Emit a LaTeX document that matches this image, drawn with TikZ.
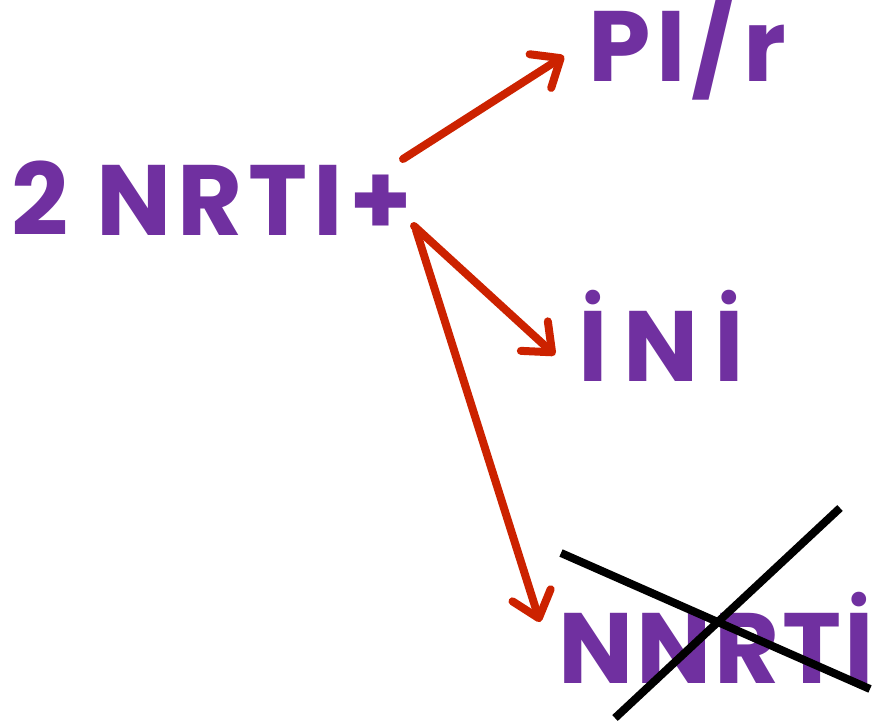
\documentclass[tikz,border=0pt]{standalone}
\usepackage{fontspec}
\newfontfamily\lblfont{Poppins}
\usetikzlibrary{arrows.meta}
\definecolor{lblpurple}{HTML}{7030A0}
\definecolor{arrred}{HTML}{CC2200}
\tikzset{
  lbl/.style={inner sep=0pt, outer sep=0pt, text=lblpurple, font=\lblfont\bfseries\fontsize{100}{110}\selectfont},
  redarrow/.style={draw=arrred, line width=8pt, line cap=round,
    -{Straight Barb[length=24pt,width=40pt,line width=8pt,round]}},
  crossline/.style={draw=black, line width=8pt}
}
\begin{document}
\begin{tikzpicture}[x=1pt,y=-1pt]
\useasboundingbox (0,0) rectangle (891,722);
\node[lbl, anchor=base west] (nrti) at (12,235) {\addfontfeatures{LetterSpace=6}2 NRTI+};
\node[lbl, anchor=base west] (pir) at (588,82) {\addfontfeatures{LetterSpace=6}PI/r};
\node[lbl, anchor=base west] (ini) at (578,381) {\addfontfeatures{LetterSpace=16}İNİ};
\node[lbl, anchor=base west] (nnrti) at (558,683) {\addfontfeatures{LetterSpace=3}NNRTİ};
\coordinate (s1) at (403,159);
\coordinate (t1) at (564,56);
\coordinate (s2) at (414,226);
\coordinate (t2) at (555,355);
\coordinate (s3) at (416,230);
\coordinate (t3) at (540,622);
\draw[redarrow] (s1) -- (t1);
\draw[redarrow] (s2) -- (t2);
\draw[redarrow] (s3) -- (t3);
\coordinate (c1a) at (561,553);
\coordinate (c1b) at (870,689);
\coordinate (c2a) at (615,718);
\coordinate (c2b) at (840,508);
\draw[crossline] (c1a) -- (c1b);
\draw[crossline] (c2a) -- (c2b);
\end{tikzpicture}
\end{document}
